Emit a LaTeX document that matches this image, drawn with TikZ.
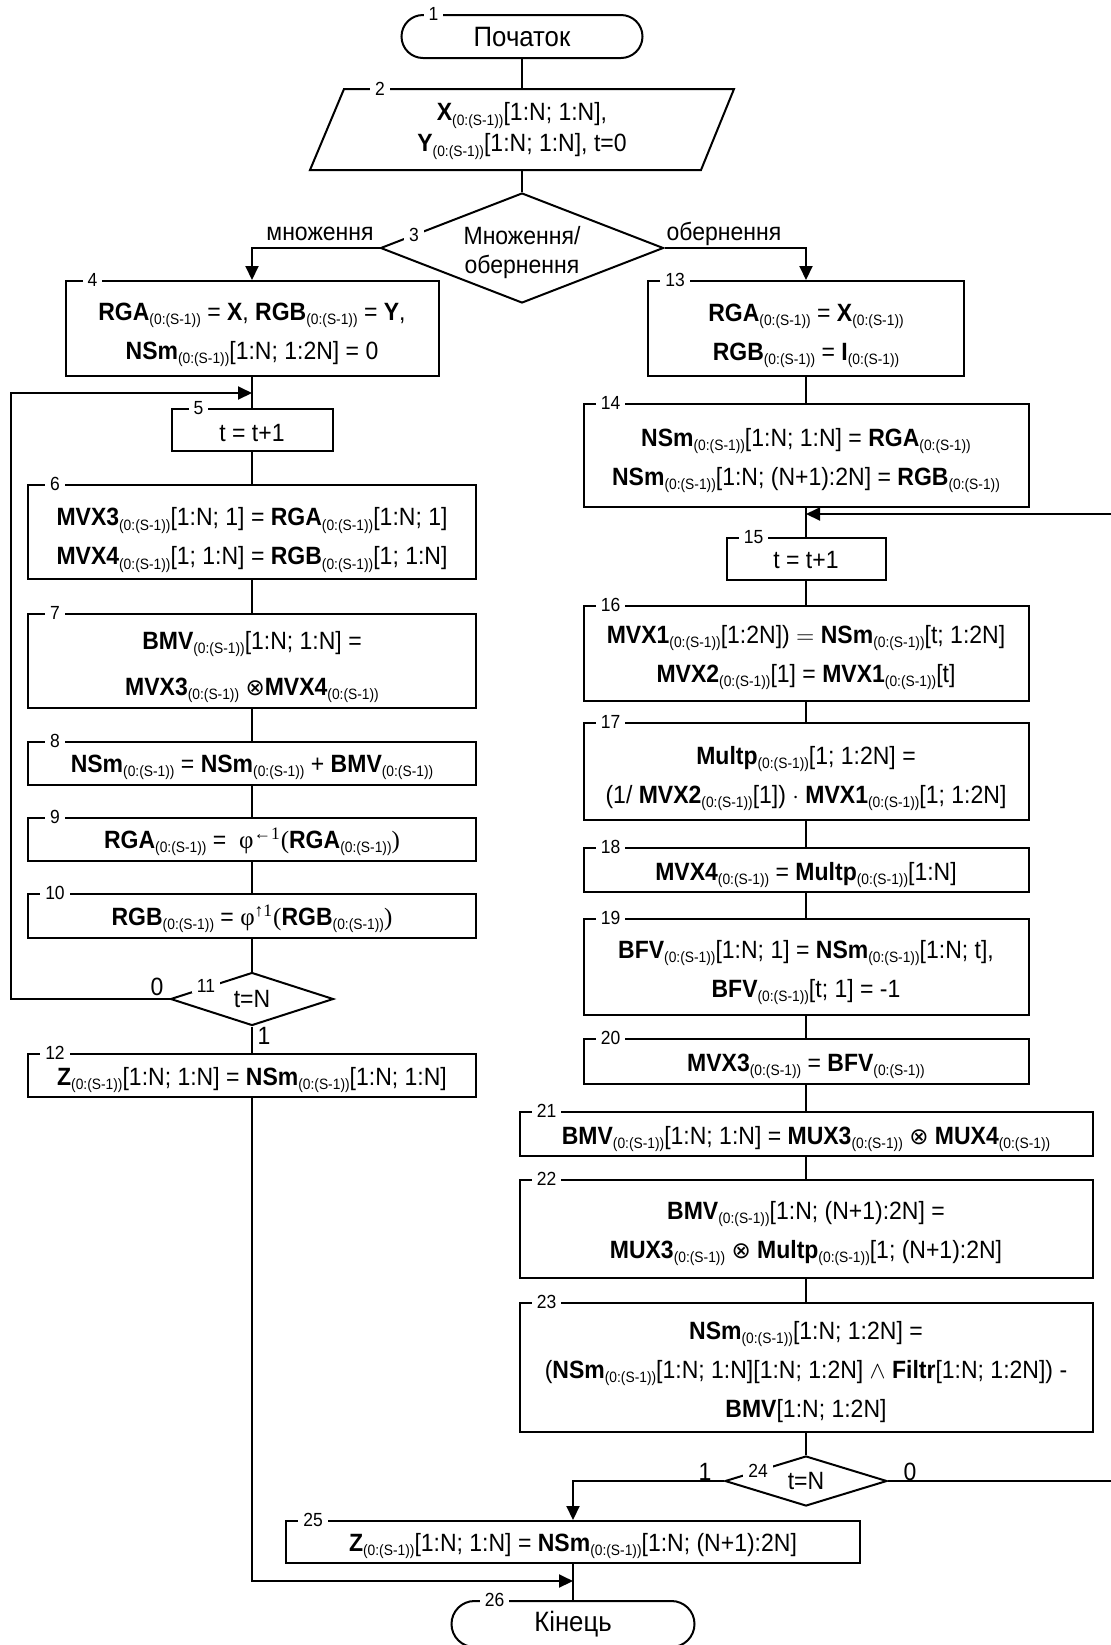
\documentclass[tikz,border=0pt]{standalone}
\usepackage{fontspec}
\setmainfont{Liberation Sans}[FakeStretch=0.92]
\newfontfamily\serf{Liberation Serif}
\newfontfamily\dejavu{DejaVu Sans}
\usetikzlibrary{arrows.meta,shapes.geometric,calc}
\newcommand{\subS}{\raisebox{-2.2pt}{\fontsize{7.5}{8}\selectfont(0:(S-1))}}
\newcommand{\bfx}[1]{\textbf{#1}}
\newcommand{\otm}{{\dejavu\fontsize{11.5}{12}\selectfont ⊗}}
% text block whose first baseline sits #1 above the node centre
\newcommand{\tx}[2]{\raisebox{#1}[0pt][0pt]{\begin{tabular}[t]{@{}c@{}}#2\end{tabular}}}
\begin{document}
\begin{tikzpicture}[x=0.5pt,y=-0.5pt,line width=1pt,
  box/.style={draw,rectangle,inner sep=0pt,font=\fontsize{12.5}{19.5}\selectfont},
  bwh/.style 2 args={minimum width=#1*0.5pt,minimum height=#2*0.5pt},
  term/.style={draw,rectangle,inner sep=0pt,font=\fontsize{14}{16}\selectfont},
  dia/.style={draw,diamond,inner sep=0pt},
  num/.style={fill=white,inner xsep=2.5pt,inner ysep=0pt,font=\fontsize{9.5}{10}\selectfont},
  lab/.style={inner sep=0pt,font=\fontsize{12.5}{14}\selectfont},
  arr/.style={-{Triangle[length=7pt,width=6.5pt]}}]
\useasboundingbox (0,0) rectangle (1111,1645);
\clip (0,0) rectangle (1111,1645);

% ---------- top ----------
\node[term,bwh={241}{43},rounded corners=10.75pt] (t1) at (522,36.5) {Початок};
\node[num] at ([xshift=16.5pt]t1.north west) {1};

\node[rectangle,inner sep=0pt,bwh={390}{81}] (p2) at (522,129.5) {};
\draw (344,89) -- (734,89) -- (701,170) -- (310,170) -- cycle;
\node[align=center,inner sep=0pt,font=\fontsize{12.5}{15.5}\selectfont] (p2t) at (522,131)
  {\bfx{X}\subS[1:N; 1:N],\\ \bfx{Y}\subS[1:N; 1:N], t=0};
\node[num] at (380,89) {2};

\node[dia,bwh={283}{110},aspect=2.57,font=\fontsize{12.5}{14.5}\selectfont] (d3) at (522,248)
  {\tx{2pt}{Множення/\\обернення}};
\node[num] at (414,235) {3};
\node[lab] at (320,234) {множення};
\node[lab] at (724,234) {обернення};

% ---------- left column ----------
\node[box,bwh={373}{95}] (b4) at (252,328.5)
  {\tx{4pt}{\bfx{RGA}\subS{} = \bfx{X}, \bfx{RGB}\subS{} = \bfx{Y},\\ \bfx{NSm}\subS[1:N; 1:2N] = 0}};
\node[num] at ([xshift=14pt]b4.north west) {4};

\node[box,bwh={161}{42}] (b5) at (252,430) {\tx{-5.5pt}{t = t+1}};
\node[num] at ([xshift=14pt]b5.north west) {5};

\node[box,bwh={448}{94}] (b6) at (252,532)
  {\tx{3.2pt}{\bfx{MVX3}\subS[1:N; 1] = \bfx{RGA}\subS[1:N; 1]\\ \bfx{MVX4}\subS[1; 1:N] = \bfx{RGB}\subS[1; 1:N]}};
\node[num] at ([xshift=14pt]b6.north west) {6};

\node[box,bwh={448}{94}] (b7) at (252,661)
  {\tx{5.8pt}{\bfx{BMV}\subS[1:N; 1:N] =\\[3.5pt] \bfx{MVX3}\subS{} \otm\bfx{MVX4}\subS}};
\node[num] at ([xshift=14pt]b7.north west) {7};

\node[box,bwh={448}{43}] (b8) at (252,763.5)
  {\tx{-4.4pt}{\bfx{NSm}\subS{} = \bfx{NSm}\subS{} + \bfx{BMV}\subS}};
\node[num] at ([xshift=14pt]b8.north west) {8};

\node[box,bwh={448}{43}] (b9) at (252,839.5)
  {\tx{-4.5pt}{\bfx{RGA}\subS{} = \ {\serf φ}\textsuperscript{\serf ←1}{\serf (}\bfx{RGA}\subS{\serf )}}};
\node[num] at ([xshift=14pt]b9.north west) {9};

\node[box,bwh={448}{44}] (b10) at (252,916)
  {\tx{-4.5pt}{\bfx{RGB}\subS{} = {\serf φ}\textsuperscript{\serf ↑1}{\serf (}\bfx{RGB}\subS{\serf )}}};
\node[num] at ([xshift=14pt]b10.north west) {10};

\node[dia,bwh={163}{53},aspect=3.07,font=\fontsize{12.5}{14}\selectfont] (d11) at (252,999) {t=N};
\node[num] at (206,986) {11};
\node[lab] at (157,987) {0};
\node[lab] at (264,1036) {1};

\node[box,bwh={448}{43}] (b12) at (252,1075.5)
  {\tx{-5pt}{\bfx{Z}\subS[1:N; 1:N] = \bfx{NSm}\subS[1:N; 1:N]}};
\node[num] at ([xshift=14pt]b12.north west) {12};

% ---------- right column ----------
\node[box,bwh={316}{95}] (b13) at (806,328.5)
  {\tx{3.7pt}{\bfx{RGA}\subS{} = \bfx{X}\subS\\ \bfx{RGB}\subS{} = \bfx{I}\subS}};
\node[num] at ([xshift=14pt]b13.north west) {13};

\node[box,bwh={445}{103}] (b14) at (806,455.5)
  {\tx{4.5pt}{\bfx{NSm}\subS[1:N; 1:N] = \bfx{RGA}\subS\\ \bfx{NSm}\subS[1:N; (N+1):2N] = \bfx{RGB}\subS}};
\node[num] at ([xshift=14pt]b14.north west) {14};

\node[box,bwh={159}{42}] (b15) at (806,559) {\tx{-4.8pt}{t = t+1}};
\node[num] at ([xshift=14pt]b15.north west) {15};

\node[box,bwh={445}{95}] (b16) at (806,653.5)
  {\tx{5pt}{\bfx{MVX1}\subS[1:2N]) $=$ \bfx{NSm}\subS[t; 1:2N]\\ \bfx{MVX2}\subS[1] = \bfx{MVX1}\subS[t]}};
\node[num] at ([xshift=14pt]b16.north west) {16};

\node[box,bwh={445}{97}] (b17) at (806,771.5)
  {\tx{3.6pt}{\bfx{Multp}\subS[1; 1:2N] =\\ (1/ \bfx{MVX2}\subS[1]) $\cdot$\ \bfx{MVX1}\subS[1; 1:2N]}};
\node[num] at ([xshift=14pt]b17.north west) {17};

\node[box,bwh={445}{44}] (b18) at (806,870)
  {\tx{-5pt}{\bfx{MVX4}\subS{} = \bfx{Multp}\subS[1:N]}};
\node[num] at ([xshift=14pt]b18.north west) {18};

\node[box,bwh={445}{96}] (b19) at (806,967)
  {\tx{4.4pt}{\bfx{BFV}\subS[1:N; 1] = \bfx{NSm}\subS[1:N; t],\\ \bfx{BFV}\subS[t; 1] = -1}};
\node[num] at ([xshift=14pt]b19.north west) {19};

\node[box,bwh={445}{45}] (b20) at (806,1061.5)
  {\tx{-4.8pt}{\bfx{MVX3}\subS{} = \bfx{BFV}\subS}};
\node[num] at ([xshift=14pt]b20.north west) {20};

\node[box,bwh={573}{44}] (b21) at (806,1134)
  {\tx{-5.2pt}{\bfx{BMV}\subS[1:N; 1:N] = \bfx{MUX3}\subS{} \otm{} \bfx{MUX4}\subS}};
\node[num] at ([xshift=14pt]b21.north west) {21};

\node[box,bwh={573}{98}] (b22) at (806,1229)
  {\tx{5pt}{\bfx{BMV}\subS[1:N; (N+1):2N] =\\ \bfx{MUX3}\subS{} \otm{} \bfx{Multp}\subS[1; (N+1):2N]}};
\node[num] at ([xshift=14pt]b22.north west) {22};

\node[box,bwh={573}{129}] (b23) at (806,1367.5)
  {\tx{14pt}{\bfx{NSm}\subS[1:N; 1:2N] =\\ (\bfx{NSm}\subS[1:N; 1:N][1:N; 1:2N] $\wedge$ \bfx{Filtr}[1:N; 1:2N]) -\\ \bfx{BMV}[1:N; 1:2N]}};
\node[num] at ([xshift=14pt]b23.north west) {23};

\node[dia,bwh={162}{50},aspect=3.2,font=\fontsize{12.5}{14}\selectfont] (d24) at (806,1481) {t=N};
\node[num] at (758,1471) {24};
\node[lab] at (705,1472) {1};
\node[lab] at (910,1472) {0};

% ---------- bottom ----------
\node[box,bwh={574}{42}] (b25) at (573,1542)
  {\tx{-4.6pt}{\bfx{Z}\subS[1:N; 1:N] = \bfx{NSm}\subS[1:N; (N+1):2N]}};
\node[num] at ([xshift=14pt]b25.north west) {25};

\node[term,bwh={243}{46},rounded corners=11.5pt] (t26) at (573,1624) {Кінець};
\node[num] at ([xshift=22pt]t26.north west) {26};

% ---------- connectors ----------
\coordinate (j1) at (252,393);
\coordinate (j2) at (806,514);
\coordinate (j3) at (573,1581);
\coordinate (lx) at (10.5,0);
\coordinate (rx) at (1118,0);

\draw (t1) -- (p2);
\draw (p2) -- (d3);
\draw[arr] (d3.west) -| (b4.north);
\draw[arr] (d3.east) -| (b13.north);

\draw (b4) -- (b5);
\draw (b5) -- (b6);
\draw (b6) -- (b7);
\draw (b7) -- (b8);
\draw (b8) -- (b9);
\draw (b9) -- (b10);
\draw (b10) -- (d11);
\draw (d11) -- (b12);
\draw[arr] (d11.west) -- (d11.west -| lx) |- (j1);
\draw[arr] (b12.south) |- (j3);

\draw (b13) -- (b14);
\draw (b14) -- (b15);
\draw (b15) -- (b16);
\draw (b16) -- (b17);
\draw (b17) -- (b18);
\draw (b18) -- (b19);
\draw (b19) -- (b20);
\draw (b20) -- (b21);
\draw (b21) -- (b22);
\draw (b22) -- (b23);
\draw (b23) -- (d24);
\draw[arr] (d24.east) -- (d24.east -| rx) |- (j2);
\draw[arr] (d24.west) -| (b25.north);
\draw (b25) -- (t26);
\end{tikzpicture}
\end{document}
